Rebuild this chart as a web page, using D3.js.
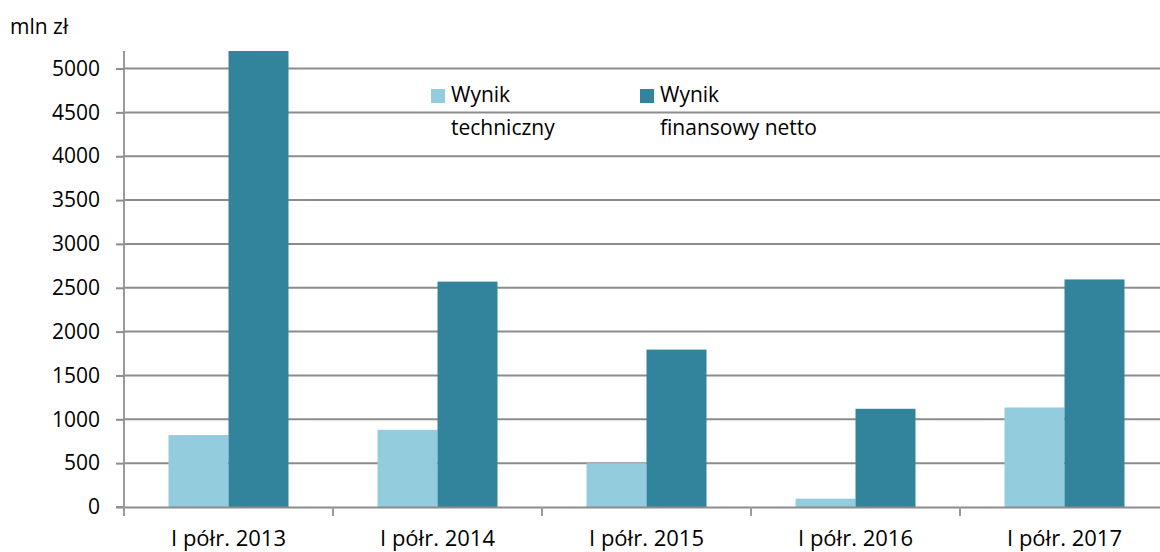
<!DOCTYPE html>
<html>
<head>
<meta charset="utf-8">
<script src="https://cdn.jsdelivr.net/npm/d3@7"></script>
<style>
  body { margin: 0; background: #fff; }
  svg text { font-family: "Open Sans", sans-serif; fill: #000; }
</style>
</head>
<body>
<div id="chart"></div>
<script>
// data
var categories = ["I półr. 2013", "I półr. 2014", "I półr. 2015", "I półr. 2016", "I półr. 2017"];
var seriesNames = ["Wynik techniczny", "Wynik finansowy netto"];
var technical = [820, 880, 500, 95, 1135];
var netResult = [5200, 2570, 1795, 1120, 2595];
var yTicks = [0, 500, 1000, 1500, 2000, 2500, 3000, 3500, 4000, 4500, 5000];

var colors = ["#93cddd", "#31849b"];
var fontSize = "21px";

var svgWidth = 1160;
var svgHeight = 552;
var margin = { top: 51, right: -9, bottom: 45, left: 124 };
var width = svgWidth - margin.left - margin.right;
var height = svgHeight - margin.top - margin.bottom;

var svg = d3.select("#chart")
  .append("svg")
  .attr("width", svgWidth)
  .attr("height", svgHeight);

var chartGroup = svg.append("g")
  .attr("transform", `translate(${margin.left}, ${margin.top})`);

var x0 = d3.scaleBand()
  .domain(categories)
  .range([0, width])
  .paddingInner(0)
  .paddingOuter(0);

var x1 = d3.scaleBand()
  .domain(seriesNames)
  .range([x0.bandwidth() / 2 - 60, x0.bandwidth() / 2 + 60]);

var y = d3.scaleLinear()
  .domain([0, 5200])
  .range([height, 0]);

// gridlines
chartGroup.append("g")
  .selectAll("line")
  .data(yTicks.filter(d => d > 0))
  .enter()
  .append("line")
  .attr("x1", 0)
  .attr("x2", width)
  .attr("y1", d => y(d))
  .attr("y2", d => y(d))
  .attr("stroke", "#8c8c8c")
  .attr("stroke-width", 2);

// bars
var rows = categories.map((c, i) => ({ cat: c, vals: [technical[i], netResult[i]] }));
var groups = chartGroup.selectAll(".cat")
  .data(rows)
  .enter()
  .append("g")
  .attr("transform", d => `translate(${x0(d.cat)}, 0)`);

groups.selectAll("rect")
  .data(d => d.vals.map((v, j) => ({ name: seriesNames[j], value: v, j: j })))
  .enter()
  .append("rect")
  .attr("x", d => x1(d.name))
  .attr("width", x1.bandwidth())
  .attr("y", d => y(d.value))
  .attr("height", d => height - y(d.value))
  .attr("fill", d => colors[d.j]);

// y axis
var leftAxis = d3.axisLeft(y).tickValues(yTicks).tickFormat(d3.format("d")).tickSize(8).tickPadding(16);
var yAxisG = chartGroup.append("g").call(leftAxis);
yAxisG.select(".domain").attr("stroke", "#9a9a9a").attr("stroke-width", 2)
  .attr("d", `M-8,${height}H0V0`);
yAxisG.selectAll(".tick line").attr("stroke", "#8c8c8c").attr("stroke-width", 2);
yAxisG.selectAll(".tick text").attr("font-size", fontSize).attr("fill", "#000");

// x axis
var bottomAxis = d3.axisBottom(x0).tickSize(0).tickPadding(23);
var xAxisG = chartGroup.append("g")
  .attr("transform", `translate(0, ${height})`)
  .call(bottomAxis);
xAxisG.select(".domain").attr("stroke", "#8c8c8c").attr("stroke-width", 2);
xAxisG.selectAll(".tick text").attr("font-size", "22px").attr("fill", "#000");

// category separators
xAxisG.selectAll(".sep")
  .data(categories)
  .enter()
  .append("line")
  .attr("x1", d => x0(d))
  .attr("x2", d => x0(d))
  .attr("y1", 0)
  .attr("y2", 9)
  .attr("stroke", "#9a9a9a")
  .attr("stroke-width", 2);

// unit label
svg.append("text")
  .attr("x", 10)
  .attr("y", 34)
  .attr("font-size", fontSize)
  .text("mln zł");

// legend
var legendX = [431, 640];
seriesNames.forEach(function(name, i) {
  var g = svg.append("g").attr("transform", `translate(${legendX[i]}, 89)`);
  g.append("rect").attr("width", 14).attr("height", 14).attr("fill", colors[i]);
  var words = name.split(" ");
  g.append("text").attr("x", 20).attr("y", 13).attr("font-size", fontSize).text(words[0]);
  g.append("text").attr("x", 20).attr("y", 46).attr("font-size", fontSize).text(words.slice(1).join(" "));
});
</script>
</body>
</html>
